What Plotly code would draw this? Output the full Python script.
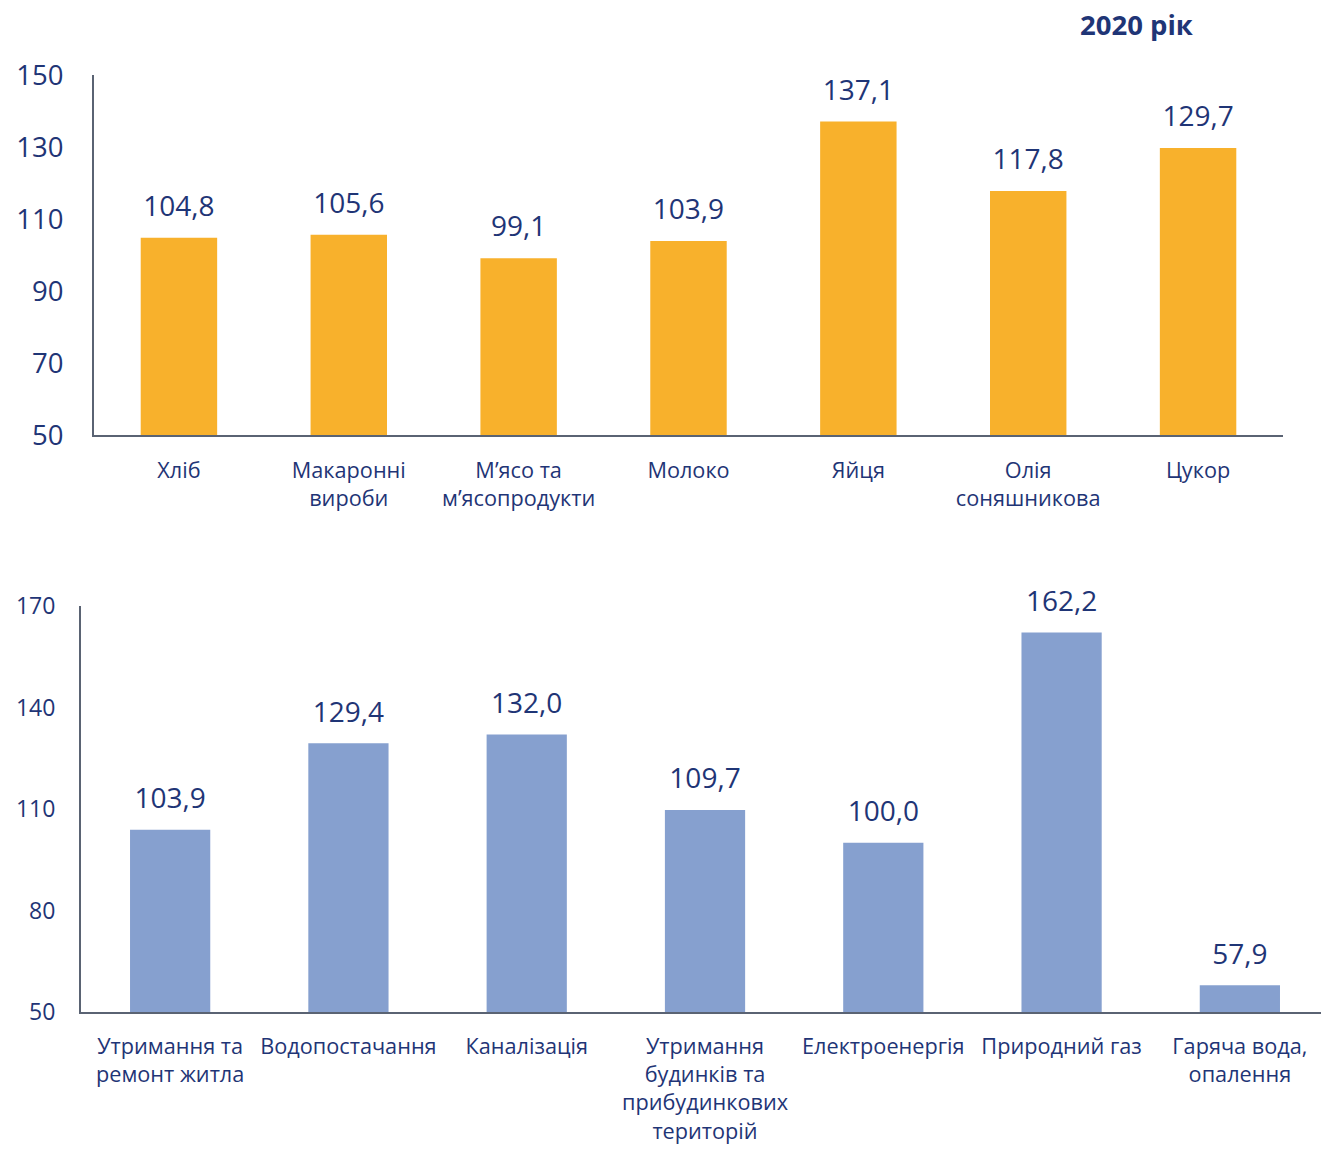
import plotly.graph_objects as go

food_categories = ["Хліб", "Макаронні<br>вироби", "М’ясо та<br>м’ясопродукти", "Молоко",
                   "Яйця", "Олія<br>соняшникова", "Цукор"]
food_values = [104.8, 105.6, 99.1, 103.9, 137.1, 117.8, 129.7]

util_categories = ["Утримання та<br>ремонт житла", "Водопостачання", "Каналізація",
                   "Утримання<br>будинків та<br>прибудинкових<br>територій", "Електроенергія",
                   "Природний газ", "Гаряча вода,<br>опалення"]
util_values = [103.9, 129.4, 132.0, 109.7, 100.0, 162.2, 57.9]

food_ticks = [50, 70, 90, 110, 130, 150]
util_ticks = [50, 80, 110, 140, 170]

title_text = "2020 рік"

W, H = 1321, 1149
NAVY = "#1F3576"
AXIS = "#5A6373"
FONT = "Open Sans"

fig = go.Figure()
fig.add_trace(go.Bar(x=food_categories, y=food_values, marker_color="#F8B12C",
                     xaxis="x", yaxis="y", showlegend=False, hoverinfo="skip"))
fig.add_trace(go.Scatter(x=food_categories, y=food_values, mode="markers+text",
                         marker=dict(size=22, color="rgba(0,0,0,0)"),
                         texttemplate="%{y:.1f}", textposition="top center", cliponaxis=False,
                         textfont=dict(size=28, color=NAVY, family=FONT),
                         xaxis="x", yaxis="y", showlegend=False, hoverinfo="skip"))
fig.add_trace(go.Bar(x=util_categories, y=util_values, marker_color="#86A0CF",
                     xaxis="x2", yaxis="y2", showlegend=False, hoverinfo="skip"))
fig.add_trace(go.Scatter(x=util_categories, y=util_values, mode="markers+text",
                         marker=dict(size=22, color="rgba(0,0,0,0)"),
                         texttemplate="%{y:.1f}", textposition="top center", cliponaxis=False,
                         textfont=dict(size=28, color=NAVY, family=FONT),
                         xaxis="x2", yaxis="y2", showlegend=False, hoverinfo="skip"))

def px_x(v):
    return v / W

def px_y(v):
    return 1 - v / H

common_x = dict(showline=True, linecolor=AXIS, linewidth=2, showgrid=False, zeroline=False,
                ticks="outside", tickcolor="rgba(0,0,0,0)", automargin=False,
                tickfont=dict(size=21.7, color=NAVY, family=FONT), fixedrange=True)
common_y = dict(showline=True, linecolor=AXIS, linewidth=2, showgrid=False, zeroline=False,
                ticks="outside", tickcolor="rgba(0,0,0,0)", fixedrange=True, automargin=False)

fig.update_layout(
    template="none",
    width=W, height=H, margin=dict(l=0, r=0, t=0, b=0, autoexpand=False),
    paper_bgcolor="white", plot_bgcolor="white",
    separators=", ", bargap=0.55,
    font=dict(family=FONT, color=NAVY),
    xaxis=dict(domain=[px_x(94), px_x(1283)], anchor="y", ticklen=15, **common_x),
    yaxis=dict(domain=[px_y(435), px_y(75)], anchor="x", range=[50, 150],
               tickvals=food_ticks, ticklen=23,
               tickfont=dict(size=27.5, color=NAVY, family=FONT), **common_y),
    xaxis2=dict(domain=[px_x(81), 1.0], anchor="y2", range=[-0.5, 6.455], ticklen=14,
                **common_x),
    yaxis2=dict(domain=[px_y(1012), px_y(606)], anchor="x2", range=[50, 170],
                tickvals=util_ticks, ticklen=19,
                tickfont=dict(size=23, color=NAVY, family=FONT), **common_y),
    annotations=[dict(text="<b>" + title_text + "</b>", x=px_x(1137), y=px_y(25),
                      xref="paper", yref="paper", showarrow=False,
                      xanchor="center", yanchor="middle",
                      font=dict(size=27.5, color=NAVY, family=FONT))],
)

fig.write_html("out.html", config={"displayModeBar": False},
               post_script="document.body.style.margin='0px';document.body.style.overflow='hidden';")
